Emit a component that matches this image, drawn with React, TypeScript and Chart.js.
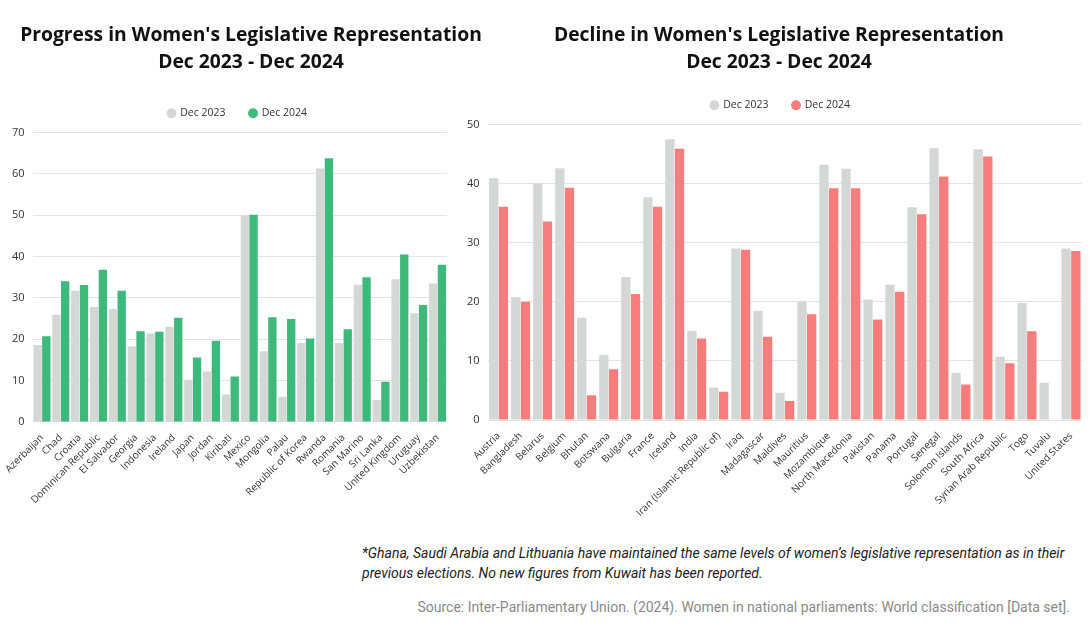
import React, { useEffect, useRef } from "react";
import { Chart, registerables } from "chart.js";

Chart.register(...registerables);

const progressCountries = [
  "Azerbaijan", "Chad", "Croatia", "Dominican Republic", "El Salvador", "Georgia",
  "Indonesia", "Ireland", "Japan", "Jordan", "Kiribati", "Mexico", "Mongolia", "Palau",
  "Republic of Korea", "Rwanda", "Romania", "San Marino", "Sri Lanka", "United Kingdom",
  "Uruguay", "Uzbekistan",
];
const progress2023 = [18.6, 25.9, 31.7, 27.8, 27.3, 18.3, 21.4, 23.0, 10.2, 12.2, 6.6, 50.0, 17.1, 6.1, 19.1, 61.3, 19.1, 33.2, 5.3, 34.5, 26.3, 33.5];
const progress2024 = [20.7, 34.0, 33.1, 36.8, 31.7, 21.9, 21.8, 25.2, 15.6, 19.6, 11.0, 50.1, 25.3, 24.9, 20.2, 63.8, 22.4, 35.0, 9.7, 40.5, 28.3, 38.0];

const declineCountries = [
  "Austria", "Bangladesh", "Belarus", "Belgium", "Bhutan", "Botswana", "Bulgaria", "France",
  "Iceland", "India", "Iran (Islamic Republic of)", "Iraq", "Madagascar", "Maldives", "Mauritius",
  "Mozambique", "North Macedonia", "Pakistan", "Panama", "Portugal", "Senegal", "Solomon Islands",
  "South Africa", "Syrian Arab Republic", "Togo", "Tuvalu", "United States",
];
const decline2023 = [40.9, 20.8, 40.0, 42.6, 17.3, 11.0, 24.2, 37.7, 47.5, 15.1, 5.5, 29.0, 18.5, 4.6, 20.0, 43.2, 42.5, 20.4, 22.9, 36.0, 46.0, 8.0, 45.8, 10.7, 19.8, 6.3, 29.0];
const decline2024 = [36.1, 20.0, 33.6, 39.3, 4.2, 8.6, 21.3, 36.1, 45.9, 13.8, 4.8, 28.8, 14.1, 3.2, 17.9, 39.2, 39.2, 17.0, 21.7, 34.8, 41.2, 6.0, 44.6, 9.6, 15.0, 0, 28.6];

const seriesLabels = ["Dec 2023", "Dec 2024"];
const progressTitle = ["Progress in Women's Legislative Representation", "Dec 2023 - Dec 2024"];
const declineTitle = ["Decline in Women's Legislative Representation", "Dec 2023 - Dec 2024"];

const GRAY = "#d4d8d5";
const GREEN = "#3db97b";
const RED = "#f77c7c";

function legendTweak(dx: number) {
  return {
    id: "legendTweak",
    beforeInit(chart: any) {
      const legend = chart.legend;
      if (!legend) return;
      const orig = legend.fit;
      legend.fit = function () {
        orig.call(this);
        this.height += 4;
      };
    },
    afterLayout(chart: any) {
      const legend = chart.legend;
      if (!legend) return;
      legend.left += dx;
      legend.right += dx;
      if (legend.legendHitBoxes) {
        legend.legendHitBoxes.forEach((b: any) => { b.left += dx; });
      }
    },
  };
}

function makeConfig(
  labels: string[], a: number[], b: number[], color: string,
  yMax: number, cat: number, bar: number, pad: any, dx: number
): any {
  return {
    type: "bar",
    data: {
      labels,
      datasets: [
        { label: seriesLabels[0], data: a, backgroundColor: GRAY, categoryPercentage: cat, barPercentage: bar },
        { label: seriesLabels[1], data: b, backgroundColor: color, categoryPercentage: cat, barPercentage: bar },
      ],
    },
    plugins: [legendTweak(dx)],
    options: {
      responsive: false,
      animation: false,
      layout: { padding: pad },
      plugins: {
        title: { display: false },
        legend: {
          display: true,
          labels: {
            usePointStyle: true,
            pointStyle: "circle",
            boxWidth: 7,
            boxHeight: 7,
            color: "#333",
            padding: 24,
            font: { family: "'Open Sans'", size: 10.5 },
          },
        },
        tooltip: { enabled: false },
      },
      scales: {
        x: {
          grid: { display: false },
          border: { display: false },
          ticks: {
            autoSkip: false,
            minRotation: 45,
            maxRotation: 45,
            color: "#333",
            padding: 2,
            font: { family: "'Open Sans'", size: 10 },
          },
        },
        y: {
          min: 0,
          max: yMax,
          grid: { color: "#e3e3e3", drawTicks: false },
          border: { display: false },
          ticks: {
            stepSize: 10,
            color: "#333",
            padding: 8,
            font: { family: "'Open Sans'", size: 11 },
          },
        },
      },
    },
  };
}

function BarChart(props: { config: any; width: number; height: number; left: number; top: number }) {
  const ref = useRef<HTMLCanvasElement | null>(null);
  useEffect(() => {
    if (!ref.current) return;
    const chart = new Chart(ref.current, props.config);
    return () => chart.destroy();
  }, []);
  return (
    <canvas
      ref={ref}
      width={props.width}
      height={props.height}
      style={{ position: "absolute", left: props.left, top: props.top, width: props.width, height: props.height }}
    />
  );
}

const titleStyle: any = {
  position: "absolute",
  top: 20,
  textAlign: "center",
  fontFamily: "'Open Sans'",
  fontWeight: 700,
  fontSize: 19.3,
  lineHeight: "27px",
  color: "#111",
  whiteSpace: "nowrap",
};

export default function App() {
  const leftCfg = makeConfig(progressCountries, progress2023, progress2024, GREEN, 70, 0.92, 0.96,
    { left: 4, right: 8, top: 84, bottom: 0 }, 12);
  const rightCfg = makeConfig(declineCountries, decline2023, decline2024, RED, 50, 0.88, 0.96,
    { left: 4, right: 8, top: 76, bottom: 0 }, 10);
  return (
    <div style={{ position: "absolute", left: 0, top: 0, width: 1090, height: 632, background: "#fff", overflow: "hidden" }}>
      <BarChart config={leftCfg} width={455} height={508} left={0} top={0} />
      <BarChart config={rightCfg} width={635} height={521} left={455} top={0} />
      <div style={{ ...titleStyle, left: 0, width: 502 }}>
        {progressTitle[0]}
        <br />
        {progressTitle[1]}
      </div>
      <div style={{ ...titleStyle, left: 469, width: 620 }}>
        {declineTitle[0]}
        <br />
        {declineTitle[1]}
      </div>
      <div
        style={{
          position: "absolute", left: 362, top: 543, width: 715,
          fontFamily: "Roboto", fontStyle: "italic", fontSize: 14, lineHeight: "20px", color: "#222",
        }}
      >
        *Ghana, Saudi Arabia and Lithuania have maintained the same levels of women’s legislative representation as in their previous elections. No new figures from Kuwait has been reported.
      </div>
      <div
        style={{
          position: "absolute", right: 20, top: 598, whiteSpace: "nowrap",
          fontFamily: "Roboto", fontSize: 14, lineHeight: "18px", color: "#8a8a8a",
        }}
      >
        Source: Inter-Parliamentary Union. (2024). Women in national parliaments: World classification [Data set].
      </div>
    </div>
  );
}
